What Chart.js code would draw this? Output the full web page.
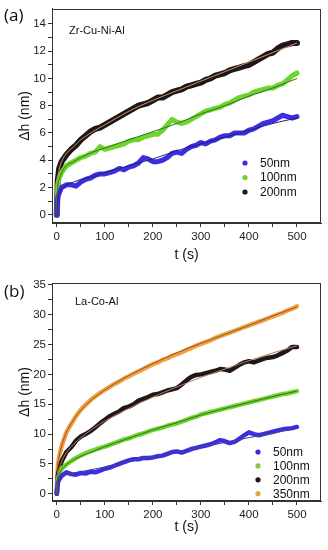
<!DOCTYPE html>
<html>
<head>
<meta charset="utf-8">
<script src="https://cdn.jsdelivr.net/npm/chart.js@4"></script>
<style>
  html, body { margin: 0; padding: 0; background: #fff; }
  canvas { display: block; }
</style>
</head>
<body>
<canvas id="chartA" width="328" height="270"></canvas>
<canvas id="chartB" width="328" height="280"></canvas>
<script>
// time axis (s), shared by every measured series
const times = [
  0, 2, 5, 10, 20, 30, 40, 50, 60, 70,
  80, 90, 100, 110, 120, 130, 140, 150, 160, 170,
  180, 190, 200, 210, 220, 230, 240, 250, 260, 270,
  280, 290, 300, 310, 320, 330, 340, 350, 360, 370,
  380, 390, 400, 410, 420, 430, 440, 450, 460, 470,
  480, 490, 500
];

// (a) Zr-Cu-Ni-Al, Δh in nm
const blueA = [
  0, 1.3, 1.6, 2.0, 2.2, 2.2, 2.1, 2.4, 2.6, 2.7,
  2.9, 3.0, 3.0, 3.1, 3.2, 3.4, 3.3, 3.5, 3.6, 3.8,
  4.2, 4.1, 3.9, 3.9, 4.0, 4.2, 4.5, 4.6, 4.5, 4.8,
  5.0, 5.1, 5.3, 5.2, 5.4, 5.5, 5.7, 5.8, 5.8, 6.0,
  6.0, 6.0, 6.2, 6.3, 6.5, 6.7, 6.8, 6.9, 7.1, 7.3,
  7.2, 7.1, 7.2
];
const greenA = [
  0, 2.2, 2.7, 3.1, 3.6, 3.8, 4.0, 4.2, 4.3, 4.5,
  4.6, 5.0, 4.8, 4.9, 5.0, 5.1, 5.2, 5.4, 5.5, 5.5,
  5.7, 5.8, 5.9, 5.9, 6.2, 6.6, 7.0, 6.8, 6.7, 6.8,
  7.0, 7.2, 7.4, 7.6, 7.7, 7.8, 7.9, 8.1, 8.2, 8.4,
  8.6, 8.7, 8.8, 9.0, 9.1, 9.2, 9.3, 9.3, 9.5, 9.6,
  9.9, 10.2, 10.4
];
const blackA = [
  0, 2.5, 3.4, 3.9, 4.4, 4.8, 5.1, 5.5, 5.8, 6.1,
  6.3, 6.4, 6.6, 6.8, 7.0, 7.2, 7.4, 7.6, 7.8, 8.0,
  8.1, 8.2, 8.4, 8.6, 8.6, 8.8, 9.0, 9.1, 9.2, 9.4,
  9.5, 9.6, 9.7, 9.9, 10.0, 10.2, 10.3, 10.4, 10.6, 10.7,
  10.8, 10.9, 11.0, 11.2, 11.4, 11.6, 11.8, 11.9, 12.2, 12.4,
  12.5, 12.6, 12.6
];

// (b) La-Co-Al, Δh in nm
const blueB = [
  0, 1.8, 2.4, 3.0, 3.6, 3.3, 3.2, 3.5, 3.4, 3.7,
  3.6, 3.9, 4.2, 4.4, 4.7, 5.0, 5.3, 5.6, 5.8, 5.8,
  6.0, 6.0, 6.1, 6.3, 6.4, 6.7, 7.0, 7.1, 6.9, 7.2,
  7.5, 7.7, 7.9, 8.1, 8.3, 8.6, 9.0, 8.8, 8.5, 8.7,
  9.2, 9.8, 10.3, 10.0, 9.8, 10.0, 10.2, 10.4, 10.6, 10.8,
  10.9, 11.0, 11.2
];
const greenB = [
  0, 2.5, 3.3, 4.2, 4.9, 5.5, 6.0, 6.4, 6.8, 7.1,
  7.4, 7.7, 7.9, 8.2, 8.5, 8.8, 9.1, 9.3, 9.6, 9.9,
  10.1, 10.4, 10.7, 10.9, 11.1, 11.4, 11.6, 11.8, 12.1, 12.4,
  12.7, 12.9, 13.3, 13.5, 13.7, 13.9, 14.1, 14.3, 14.5, 14.7,
  14.9, 15.1, 15.3, 15.5, 15.7, 15.9, 16.1, 16.3, 16.5, 16.7,
  16.8, 17.0, 17.2
];
const blackB = [
  0, 3.0, 4.2, 5.4, 7.0, 7.8, 8.9, 9.6, 10.0, 10.5,
  11.1, 11.8, 12.4, 13.0, 13.4, 13.8, 14.4, 14.6, 15.0, 15.6,
  15.9, 16.2, 16.6, 16.7, 17.0, 17.3, 17.5, 17.7, 18.3, 19.0,
  19.6, 19.9, 20.0, 20.2, 20.4, 20.6, 20.9, 20.8, 20.6, 21.1,
  21.6, 22.0, 22.2, 22.0, 22.3, 22.6, 22.8, 22.9, 23.2, 23.6,
  24.0, 24.6, 24.6
];
const orangeB = [
  0, 4.5, 6.3, 8.0, 10.3, 11.7, 13.0, 14.1, 14.9, 15.7,
  16.3, 16.9, 17.4, 17.9, 18.4, 18.8, 19.3, 19.7, 20.1, 20.5,
  20.9, 21.3, 21.7, 22.0, 22.4, 22.7, 23.1, 23.4, 23.7, 24.1,
  24.4, 24.8, 25.1, 25.4, 25.7, 26.1, 26.4, 26.7, 27.0, 27.3,
  27.6, 27.9, 28.2, 28.5, 28.8, 29.1, 29.4, 29.7, 30.0, 30.3,
  30.7, 31.0, 31.4
];

// fitted curves
const fitTimes = [0, 2, 5, 10, 20, 35, 50, 75, 100, 150, 200, 250, 300, 350, 400, 450, 500];
const blueAFit  = [0, 1.2, 1.6, 1.9, 2.2, 2.4, 2.6, 2.8, 3.1, 3.6, 4.1, 4.7, 5.2, 5.7, 6.2, 6.7, 7.1];
const greenAFit = [0, 2.1, 2.6, 3.1, 3.6, 3.9, 4.2, 4.6, 4.9, 5.5, 6.1, 6.7, 7.4, 8.0, 8.7, 9.3, 10.0];
const blackAFit = [0, 2.5, 3.3, 3.9, 4.5, 5.0, 5.5, 6.1, 6.6, 7.6, 8.4, 9.1, 9.8, 10.5, 11.2, 11.9, 12.6];
const blueBFit   = [0, 1.8, 2.3, 2.8, 3.2, 3.5, 3.7, 4.1, 4.5, 5.4, 6.2, 7.0, 7.8, 8.6, 9.4, 10.2, 11.0];
const greenBFit  = [0, 2.5, 3.3, 4.1, 4.9, 5.7, 6.3, 7.1, 7.9, 9.3, 10.7, 11.9, 13.2, 14.3, 15.3, 16.3, 17.2];
const blackBFit  = [0, 3.0, 4.2, 5.4, 6.9, 8.3, 9.4, 10.9, 12.2, 14.3, 16.2, 17.9, 19.5, 20.9, 22.3, 23.6, 24.8];
const orangeBFit = [0, 4.5, 6.3, 8.0, 10.3, 12.4, 14.0, 15.9, 17.4, 19.8, 21.8, 23.6, 25.2, 26.7, 28.2, 29.8, 31.3];

// tick positions (labels only on the major ones)
const xTicks = [0, 50, 100, 150, 200, 250, 300, 350, 400, 450, 500];
const yTicksA = [0, 1, 2, 3, 4, 5, 6, 7, 8, 9, 10, 11, 12, 13, 14];
const yTicksB = [0, 2.5, 5, 7.5, 10, 12.5, 15, 17.5, 20, 22.5, 25, 27.5, 30, 32.5, 35];

const labelsA = ['50nm', '100nm', '200nm'];
const labelsB = ['50nm', '100nm', '200nm', '350nm'];

const BLUE = '#3a2ee0';
const GREEN = '#6ad62e';
const BLACK = '#1e1718';
const ORANGE = '#f4a042';
const AXIS = '#333';
const FONT = '"Liberation Sans", Arial, sans-serif';

function pts(xs, ys) {
  return xs.map((x, i) => ({ x: x, y: ys[i] }));
}

function band(values, color, width) {
  return {
    data: pts(times, values),
    borderColor: color,
    borderWidth: width,
    borderJoinStyle: 'round',
    borderCapStyle: 'round',
    pointRadius: 0,
    tension: 0,
    order: 2
  };
}

function fit(values, color) {
  return {
    data: pts(fitTimes, values),
    borderColor: color,
    borderWidth: 1,
    pointRadius: 0,
    cubicInterpolationMode: 'monotone',
    order: 1
  };
}

// frame, panel letter, sample name and the in-plot legend
const decorations = {
  id: 'decorations',
  afterDraw(chart, args, opts) {
    const { ctx, chartArea: a } = chart;
    ctx.save();
    ctx.strokeStyle = AXIS;
    ctx.lineWidth = 1;
    ctx.strokeRect(Math.round(a.left) + 0.5, Math.round(a.top) + 0.5,
      Math.round(a.right - a.left) - 1, Math.round(a.bottom - a.top) - 1);

    ctx.fillStyle = '#111';
    ctx.textBaseline = 'middle';
    ctx.textAlign = 'left';
    ctx.font = '17px "Open Sans", sans-serif';
    ctx.fillText(opts.panel, 4, opts.panelY);

    ctx.font = '11px ' + FONT;
    ctx.fillText(opts.sample, a.left + opts.sampleDx, a.top + opts.sampleDy);

    ctx.font = '12px ' + FONT;
    opts.labels.forEach((lab, i) => {
      const y = opts.legendY + i * opts.legendStep;
      ctx.beginPath();
      ctx.arc(opts.legendX, y, 2.6, 0, Math.PI * 2);
      ctx.fillStyle = opts.colors[i];
      ctx.fill();
      ctx.fillStyle = '#111';
      ctx.fillText(lab, opts.legendX + 15, y + 0.5);
    });
    ctx.restore();
  }
};

function axisX(titlePad) {
  return {
    type: 'linear',
    min: -10,
    max: 550,
    afterBuildTicks: (s) => { s.ticks = xTicks.map(v => ({ value: v })); },
    ticks: {
      autoSkip: false,
      maxRotation: 0,
      padding: 3,
      color: '#222',
      font: { family: FONT, size: 11.5 },
      callback: (v) => (v % 100 === 0 ? v : '')
    },
    grid: { drawOnChartArea: false, tickLength: 4, color: AXIS },
    border: { color: AXIS },
    title: {
      display: true,
      text: 't (s)',
      color: '#111',
      font: { family: FONT, size: 14 },
      padding: { top: 0, bottom: titlePad }
    }
  };
}

function axisY(min, max, ticks, every) {
  return {
    type: 'linear',
    min: min,
    max: max,
    afterBuildTicks: (s) => { s.ticks = ticks.map(v => ({ value: v })); },
    afterFit: (s) => { s.width = 52; },
    ticks: {
      autoSkip: false,
      padding: 2,
      color: '#222',
      font: { family: FONT, size: 11.5 },
      callback: (v) => (v % every === 0 ? v : '')
    },
    grid: { drawOnChartArea: false, tickLength: 4, color: AXIS },
    border: { color: AXIS },
    title: {
      display: true,
      text: 'Δh (nm)',
      color: '#111',
      font: { family: FONT, size: 14 },
      padding: { top: 16.5, bottom: 0 }
    }
  };
}

function makeChart(id, datasets, x, y, pad, deco) {
  x.afterFit = (s) => { s.height = pad.axisH; };
  return new Chart(document.getElementById(id), {
    type: 'line',
    data: { datasets: datasets },
    options: {
      responsive: false,
      animation: false,
      devicePixelRatio: 1,
      layout: { padding: { top: pad.top, right: 7, left: 0, bottom: 0 } },
      scales: { x: x, y: y },
      plugins: {
        legend: { display: false },
        tooltip: { enabled: false },
        decorations: deco
      }
    },
    plugins: [decorations]
  });
}

makeChart('chartA', [
  band(blueA, BLUE, 5), band(greenA, GREEN, 5), band(blackA, BLACK, 6),
  fit(blueAFit, '#2a1f7a'), fit(greenAFit, '#3f6b22'), fit(blackAFit, '#d9886a')
], axisX(6.5), axisY(-0.6, 15.1, yTicksA, 2), { top: 5, axisH: 47 }, {
  panel: '(a)', panelY: 16,
  sample: 'Zr-Cu-Ni-Al', sampleDx: 17, sampleDy: 22,
  labels: labelsA, colors: [BLUE, GREEN, BLACK],
  legendX: 245, legendY: 163, legendStep: 14.5
});

makeChart('chartB', [
  band(blueB, BLUE, 4.5), band(greenB, GREEN, 4.5), band(blackB, BLACK, 4.5), band(orangeB, ORANGE, 4.5),
  fit(blueBFit, '#4a3f8a'), fit(greenBFit, '#3f6b22'), fit(blackBFit, '#b87a62'), fit(orangeBFit, '#8a5a24')
], axisX(14.5), axisY(-1.2, 35.3, yTicksB, 5), { top: 13, axisH: 49 }, {
  panel: '(b)', panelY: 22,
  sample: 'La-Co-Al', sampleDx: 23, sampleDy: 19,
  labels: labelsB, colors: [BLUE, '#8cc63f', BLACK, '#e0a93a'],
  legendX: 258, legendY: 182, legendStep: 13.9
});
</script>
</body>
</html>
